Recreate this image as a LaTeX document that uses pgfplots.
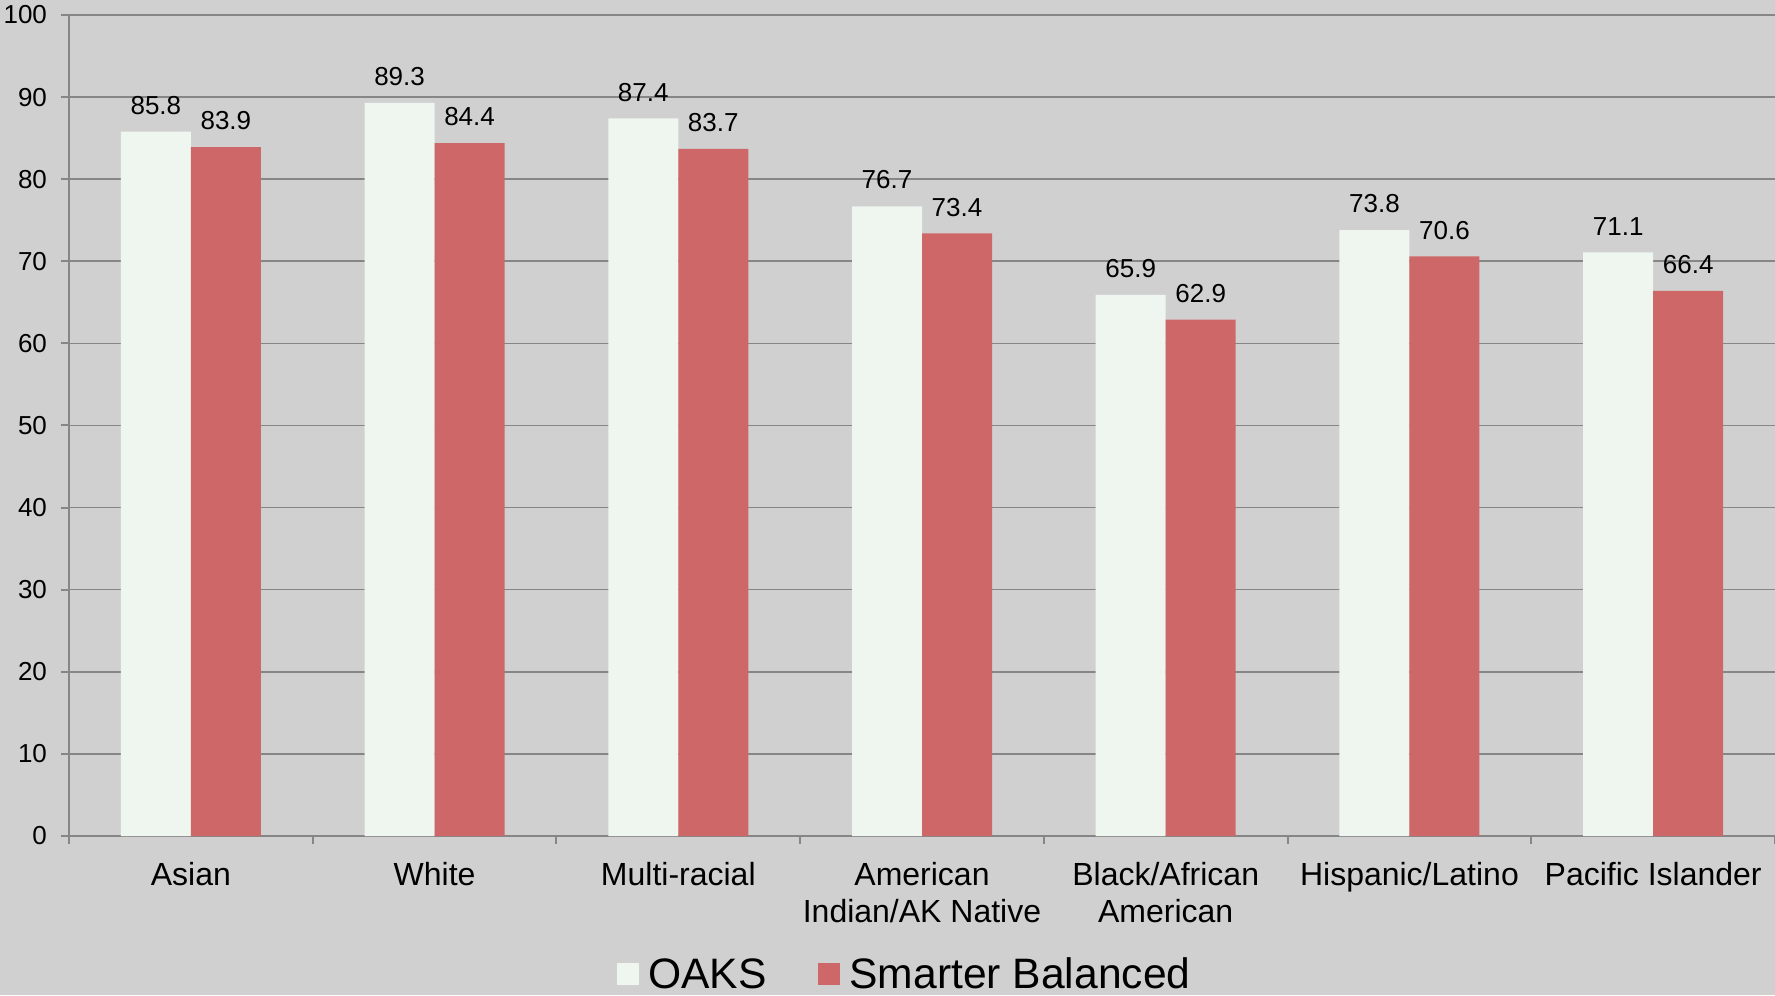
\documentclass[border=0pt]{standalone}
\usepackage{fontspec}
\setmainfont{Liberation Sans}
\usepackage{pgfplots}
\pgfplotsset{compat=1.18}

\definecolor{bg}{RGB}{208,208,208}
\definecolor{gridc}{RGB}{134,134,134}
\definecolor{oaks}{RGB}{239,245,239}
\definecolor{sbac}{RGB}{206,104,104}

\begin{document}
\begin{tikzpicture}[x=1pt,y=1pt]
\fill[bg] (0,0) rectangle (887.5,497.5);
\path[use as bounding box] (0,0) rectangle (887.5,497.5);
\begin{axis}[
    at={(34.5pt,79.5pt)}, anchor=south west,
    scale only axis,
    width=853pt, height=410.5pt,
    xmin=-0.5, xmax=6.5, ymin=0, ymax=100,
    ytick={0,10,...,100},
    xtick={-0.5,0.5,...,6.5},
    x tick label as interval,
    xticklabels={Asian, White, Multi-racial, {American\\Indian/AK Native},
        {Black/African\\American}, Hispanic/Latino, Pacific Islander},
    xticklabel style={align=center, font=\fontsize{16}{18.5}\selectfont, yshift=-5.5pt},
    yticklabel style={font=\fontsize{13}{15}\selectfont, xshift=-3.5pt},
    /pgf/number format/assume math mode=true,
    axis x line*=bottom, axis y line*=left,
    axis line style={-, draw=gridc, line width=1pt},
    tick align=outside, major tick length=4pt,
    tick style={draw=gridc, line width=1pt},
    ymajorgrids, grid style={draw=gridc, line width=0.8pt},
    ybar=0pt, bar width=35pt,
    nodes near coords,
    nodes near coords style={font=\fontsize{13}{15}\selectfont, yshift=5pt},
    legend columns=2,
    legend style={at={(0.4905,-0.169)}, anchor=center, draw=none, fill=none,
        font=\fontsize{21.3}{24}\selectfont,
        /tikz/every odd column/.append style={column sep=2.5pt},
        /tikz/every even column/.append style={column sep=24pt}},
    legend image code/.code={\fill[#1] (0pt,-5pt) rectangle (11pt,6pt);},
]
\addplot[fill=oaks, draw=none] coordinates {
    (0,85.8) (1,89.3) (2,87.4) (3,76.7) (4,65.9) (5,73.8) (6,71.1)
};
\addlegendentry{OAKS}
\addplot[fill=sbac, draw=none] coordinates {
    (0,83.9) (1,84.4) (2,83.7) (3,73.4) (4,62.9) (5,70.6) (6,66.4)
};
\addlegendentry{Smarter Balanced}
\end{axis}
\end{tikzpicture}
\end{document}
